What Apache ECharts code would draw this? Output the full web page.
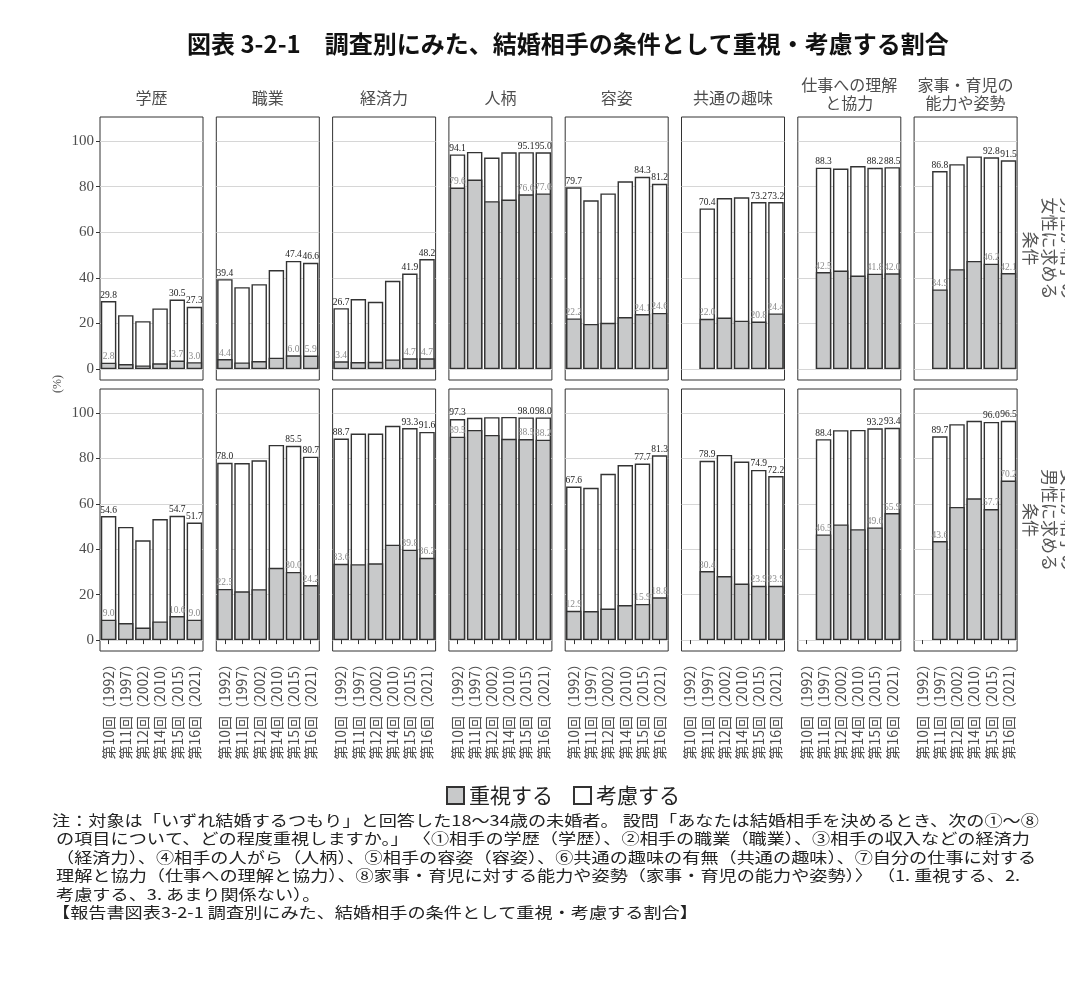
<!DOCTYPE html>
<html lang="ja">
<head>
<meta charset="utf-8">
<title>図表 3-2-1</title>
<script src="https://cdn.jsdelivr.net/npm/echarts@6/dist/echarts.min.js"></script>
<style>
  html, body { margin: 0; padding: 0; background: #fff; }
  #chart { width: 1065px; height: 989px; }
</style>
</head>
<body>
<div id="chart"></div>
<script>
// 調査回（横軸）
const surveys = ['第10回（1992）', '第11回（1997）', '第12回（2002）', '第14回（2010）', '第15回（2015）', '第16回（2021）'];
// 条件（列）
const items = ['学歴', '職業', '経済力', '人柄', '容姿', '共通の趣味', '仕事への理解\nと協力', '家事・育児の\n能力や姿勢'];
// 行ラベル
const rowLabels = ['男性が相手の\n女性に求める\n条件', '女性が相手の\n男性に求める\n条件'];
const yTicks = [0, 20, 40, 60, 80, 100];

// 上段：男性が女性に求める条件 — 重視する
const menImportant = [
  [2.8, 2.2, 1.6, 2.5, 3.7, 3.0],
  [4.4, 2.9, 3.5, 5.0, 6.0, 5.9],
  [3.4, 3.1, 3.2, 4.2, 4.7, 4.7],
  [79.6, 83.1, 73.6, 74.3, 76.6, 77.0],
  [22.2, 19.8, 20.3, 22.8, 24.1, 24.6],
  [null, 22.0, 22.6, 21.2, 20.8, 24.4],
  [null, 42.5, 43.2, 41.0, 41.8, 42.0],
  [null, 34.9, 43.8, 47.4, 46.2, 42.1]
];
// 上段 — 重視する＋考慮する
const menTotal = [
  [29.8, 23.6, 21.0, 26.6, 30.5, 27.3],
  [39.4, 35.9, 37.2, 43.4, 47.4, 46.6],
  [26.7, 30.7, 29.5, 38.7, 41.9, 48.2],
  [94.1, 95.2, 92.7, 95.0, 95.1, 95.0],
  [79.7, 74.0, 77.0, 82.3, 84.3, 81.2],
  [null, 70.4, 75.0, 75.3, 73.2, 73.2],
  [null, 88.3, 87.9, 89.0, 88.2, 88.5],
  [null, 86.8, 89.8, 93.2, 92.8, 91.5]
];
// 下段：女性が男性に求める条件 — 重視する
const womenImportant = [
  [9.0, 7.5, 5.5, 8.2, 10.6, 9.0],
  [22.5, 21.5, 22.4, 31.8, 30.0, 24.2],
  [33.6, 33.4, 33.8, 42.0, 39.8, 36.2],
  [89.5, 92.5, 90.3, 88.6, 88.5, 88.2],
  [12.9, 12.8, 13.9, 15.4, 15.9, 18.8],
  [null, 30.4, 28.2, 24.9, 23.9, 23.9],
  [null, 46.5, 50.9, 48.8, 49.6, 55.9],
  [null, 43.6, 58.6, 62.4, 57.7, 70.2]
];
// 下段 — 重視する＋考慮する
const womenTotal = [
  [54.6, 49.8, 43.9, 53.3, 54.7, 51.7],
  [78.0, 77.9, 79.1, 85.9, 85.5, 80.7],
  [88.7, 90.9, 90.9, 94.3, 93.3, 91.6],
  [97.3, 97.8, 98.1, 98.2, 98.0, 98.0],
  [67.6, 67.0, 73.2, 77.0, 77.7, 81.3],
  [null, 78.9, 81.5, 78.6, 74.9, 72.2],
  [null, 88.4, 92.4, 92.5, 93.2, 93.4],
  [null, 89.7, 95.0, 96.5, 96.0, 96.5]
];

const noteLines = [
  '注：対象は「いずれ結婚するつもり」と回答した18～34歳の未婚者。 設問「あなたは結婚相手を決めるとき、次の①～⑧',
  ' の項目について、どの程度重視しますか。」 〈①相手の学歴（学歴）、②相手の職業（職業）、③相手の収入などの経済力',
  ' （経済力）、④相手の人がら（人柄）、⑤相手の容姿（容姿）、⑥共通の趣味の有無（共通の趣味）、⑦自分の仕事に対する',
  ' 理解と協力（仕事への理解と協力）、⑧家事・育児に対する能力や姿勢（家事・育児の能力や姿勢）〉 （1. 重視する、2.',
  ' 考慮する、3. あまり関係ない）。',
  '【報告書図表3-2-1 調査別にみた、結婚相手の条件として重視・考慮する割合】'
];

const JP = '"Noto Sans CJK JP", sans-serif';
const SERIF = '"Liberation Serif", "DejaVu Serif", serif';

// パネル配置
const panelW = 103;
const panelX = c => 100 + c * 116.3;
const rowTop = [117, 389];
const rowH = [263, 262];

const chart = echarts.init(document.getElementById('chart'));

const grids = [], xAxes = [], yAxes = [], series = [], graphics = [];
const important = [menImportant, womenImportant];
const total = [menTotal, womenTotal];

for (let r = 0; r < 2; r++) {
  for (let c = 0; c < items.length; c++) {
    const idx = r * items.length + c;
    const imp = important[r][c];
    const tot = total[r][c];
    const first = tot.findIndex(v => v != null);
    const labelIdx = [first, 4, 5];

    grids.push({
      left: panelX(c), top: rowTop[r], width: panelW, height: rowH[r],
      show: true, borderColor: '#333', borderWidth: 1, backgroundColor: '#fff'
    });
    xAxes.push({
      type: 'category', gridIndex: idx, data: surveys,
      axisLine: { show: false },
      axisTick: { show: r === 1, alignWithLabel: true, length: 4, lineStyle: { color: '#333' } },
      axisLabel: { show: r === 1, rotate: 90, interval: 0, margin: 6, fontSize: 14, color: '#4d4d4d', fontFamily: JP },
      splitLine: { show: false }
    });
    yAxes.push({
      type: 'value', gridIndex: idx, min: -4.8, max: 110.5,
      axisLine: { show: false },
      axisTick: { show: c === 0, length: 4, customValues: yTicks, lineStyle: { color: '#333' } },
      axisLabel: { show: c === 0, customValues: yTicks, margin: 6, fontSize: 15, color: '#4d4d4d', fontFamily: SERIF },
      splitLine: { show: true, lineStyle: { color: '#d6d6d6', width: 1.2 } }
    });

    // 欠測（第10回に設問なし）は '-' として描かない
    const mk = arr => arr.map((v, i) => (v == null ? '-' : { value: v, label: { show: labelIdx.includes(i) } }));
    const fmt = p => (typeof p.value === 'number' ? p.value.toFixed(1) : '');

    series.push({
      type: 'bar', name: '考慮する', xAxisIndex: idx, yAxisIndex: idx,
      data: mk(tot), barCategoryGap: '10%', barGap: '-100%', z: 2,
      itemStyle: { color: '#fff', borderColor: '#333', borderWidth: 1.4 },
      label: { show: false, position: 'top', distance: 1, fontSize: 9.5, color: '#222', fontFamily: SERIF, formatter: fmt }
    });
    series.push({
      type: 'bar', name: '重視する', xAxisIndex: idx, yAxisIndex: idx,
      data: mk(imp), barCategoryGap: '10%', barGap: '-100%', z: 3,
      itemStyle: { color: '#c8c9ca', borderColor: '#333', borderWidth: 1.4 },
      label: { show: false, position: 'top', distance: 1, fontSize: 9.5, color: '#8a8a8a', fontFamily: SERIF, formatter: fmt }
    });
  }
}

// 列見出し
items.forEach((name, c) => {
  const lines = name.split('\n').length;
  graphics.push({
    type: 'text', x: panelX(c) + panelW / 2, y: lines > 1 ? 94 : 98,
    style: { text: name, lineHeight: 18, fill: '#4d4d4d', font: '16px ' + JP, align: 'center', verticalAlign: 'middle' }
  });
});

// 行ラベル（右側、右端で切れる）
rowLabels.forEach((t, r) => {
  graphics.push({
    type: 'text', x: 1049, y: rowTop[r] + rowH[r] / 2, rotation: -Math.PI / 2,
    style: { text: t, lineHeight: 19, fill: '#555', font: '17px ' + JP, align: 'center', verticalAlign: 'middle' }
  });
});

// (%)
graphics.push({
  type: 'text', x: 58, y: 384, rotation: Math.PI / 2,
  style: { text: '(%)', fill: '#4d4d4d', font: '12px ' + SERIF, align: 'center', verticalAlign: 'middle' }
});

// 注記
graphics.push({
  type: 'text', x: 52, y: 811, scaleX: 1.21, scaleY: 1,
  style: { text: noteLines.join('\n'), fill: '#222', font: '15px ' + JP, lineHeight: 18.5, align: 'left', verticalAlign: 'top' }
});

const option = {
  animation: false,
  backgroundColor: '#fff',
  title: {
    text: '図表 3-2-1　調査別にみた、結婚相手の条件として重視・考慮する割合',
    left: 182, top: 27,
    textStyle: { fontSize: 24, fontWeight: 'bold', color: '#111', fontFamily: JP }
  },
  legend: {
    data: ['重視する', '考慮する'],
    left: 441, top: 780,
    icon: 'rect', itemWidth: 17, itemHeight: 17, itemGap: 20,
    textStyle: { fontSize: 21, color: '#222', fontFamily: JP }
  },
  grid: grids,
  xAxis: xAxes,
  yAxis: yAxes,
  series: series,
  graphic: graphics
};

chart.setOption(option);
window.addEventListener('resize', () => chart.resize());
</script>
</body>
</html>
